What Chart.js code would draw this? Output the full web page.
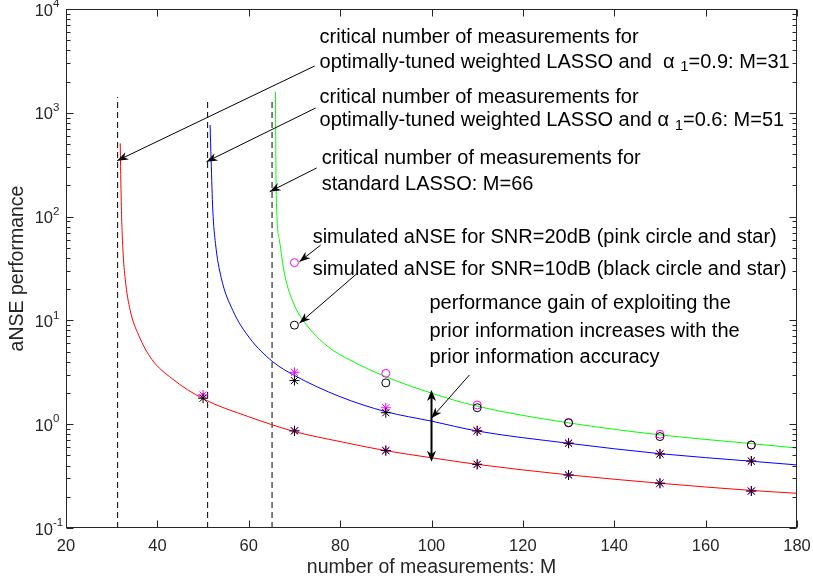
<!DOCTYPE html>
<html>
<head>
<meta charset="utf-8">
<script src="https://cdn.jsdelivr.net/npm/chart.js@4.4.1/dist/chart.umd.min.js"></script>
<style>
  html, body { margin: 0; padding: 0; background: #fff; }
  #wrap { width: 813px; height: 585px; }
</style>
</head>
<body>
<div id="wrap"><canvas id="c" width="813" height="585"></canvas></div>
<script>
// ---------------------------------------------------------
// data
// ---------------------------------------------------------
// theoretical curves
const redM   = [31.87, 32.09, 32.46, 32.96, 34.05, 35.9, 38.8, 43.2, 50, 60, 70, 80, 90, 100, 110, 130, 150, 170, 180];
const redV   = [508, 139, 48, 25, 12.5, 7.2, 4.2, 2.75, 1.76, 1.18, 0.85, 0.68, 0.556, 0.475, 0.41, 0.325, 0.27, 0.23, 0.216];
const blueM  = [51.54, 51.76, 52.13, 52.72, 53.95, 56.5, 60.15, 65.25, 70, 80, 90, 100, 110, 130, 150, 170, 180];
const blueV  = [763, 351, 116, 55, 26, 12.5, 6.8, 4.0, 2.95, 1.84, 1.32, 1.07, 0.86, 0.655, 0.52, 0.44, 0.405];
const greenM = [65.84, 66.0, 66.71, 67.8, 70, 72.2, 77.3, 82.4, 90, 100, 110, 130, 150, 170, 180];
const greenV = [1597, 180, 59.5, 28.4, 14, 9.6, 5.6, 4.1, 2.87, 1.99, 1.49, 1.03, 0.79, 0.65, 0.59];

// simulated points (standard LASSO = circles)
const circM    = [70, 90, 110, 130, 150, 170];
const circ20dB = [36, 3.09, 1.53, 1.04, 0.80, 0.63];
const circ10dB = [9.0, 2.5, 1.44, 1.03, 0.76, 0.63];
// weighted LASSO alpha1=0.6 (stars on blue)
const starBlueM    = [70, 90, 110, 130, 150, 170];
const starBlue20dB = [3.16, 1.44, 0.87, 0.66, 0.52, 0.44];
const starBlue10dB = [2.63, 1.29, 0.86, 0.655, 0.516, 0.442];
// weighted LASSO alpha1=0.9 (stars on red)
const starRedM    = [50, 70, 90, 110, 130, 150, 170];
const starRed20dB = [1.91, 0.87, 0.56, 0.41, 0.325, 0.27, 0.227];
const starRed10dB = [1.78, 0.86, 0.556, 0.411, 0.324, 0.27, 0.227];

// critical number of measurements (dashed lines)
const critM   = [31.3, 51, 65.1];
const critTop = [1420, 1330, 1350];

// axes
const xTicks   = [20, 40, 60, 80, 100, 120, 140, 160, 180];
const yDecades = [0.1, 1, 10, 100, 1000, 10000];
const yExps    = ['-1', '0', '1', '2', '3', '4'];

const FONT = "'Liberation Sans', Arial, Helvetica, sans-serif";

// ---------------------------------------------------------
// annotations (anchors in data units: [M, aNSE])
// ---------------------------------------------------------
const notes = [
  { at: [75.5, 5370], parts: [['critical number of measurements for']] },
  { at: [75.5, 3083], parts: [['optimally-tuned weighted LASSO and  \u03b1 '], ['1', 'sub'], ['=0.9: M=31']] },
  { at: [75.5, 1419], parts: [['critical number of measurements for']] },
  { at: [75.5, 834],  parts: [['optimally-tuned weighted LASSO and \u03b1 '], ['1', 'sub'], ['=0.6: M=51']] },
  { at: [75.96, 367], parts: [['critical number of measurements for']] },
  { at: [75.96, 206], parts: [['standard LASSO: M=66']] },
  { at: [73.99, 63.5], parts: [['simulated aNSE for SNR=20dB (pink circle and star)']] },
  { at: [73.99, 30.6], parts: [['simulated aNSE for SNR=10dB (black circle and star)']] },
  { at: [99.56, 14.4], parts: [['performance gain of exploiting the']] },
  { at: [99.56, 7.9],  parts: [['prior information increases with the']] },
  { at: [99.56, 4.35], parts: [['prior information accuracy']] }
];

const arrows = [
  { from: [74.43, 2825], to: [31.21, 346] },
  { from: [74.64, 1112], to: [50.75, 338] },
  { from: [74.86, 294],  to: [64.59, 174] },
  { from: [75.74, 53.2], to: [71.08, 36.7] },
  { from: [83.83, 28.6], to: [71.08, 9.38] },
  { from: [108.3, 2.98], to: [99.93, 1.14] }
];
const gapArrow = { m: 100, hi: 2.13, lo: 0.435 };

// ---------------------------------------------------------
// helpers
// ---------------------------------------------------------
function pts(xs, ys) {
  return xs.map((x, i) => ({ x: x, y: ys[i] }));
}

function curve(xs, ys, color) {
  return {
    data: pts(xs, ys),
    showLine: true,
    borderColor: color,
    borderWidth: 1,
    pointRadius: 0,
    cubicInterpolationMode: 'monotone',
    fill: false
  };
}

function marker(xs, ys, style, color) {
  return {
    data: pts(xs, ys),
    showLine: false,
    pointStyle: style,
    pointRadius: style === 'star' ? 5 : 4,
    pointBorderColor: color,
    pointBackgroundColor: 'rgba(0,0,0,0)',
    pointBorderWidth: 1
  };
}

function dashed(i) {
  return {
    data: pts([critM[i], critM[i]], [0.1, critTop[i]]),
    showLine: true,
    borderColor: '#000',
    borderWidth: 1,
    borderDash: [6, 4],
    pointRadius: 0
  };
}

function head(ctx, x1, y1, x2, y2, len, half) {
  const a = Math.atan2(y2 - y1, x2 - x1);
  ctx.save();
  ctx.translate(x2, y2);
  ctx.rotate(a);
  ctx.beginPath();
  ctx.moveTo(0, 0);
  ctx.lineTo(-len, -half);
  ctx.lineTo(-len * 0.7, 0);
  ctx.lineTo(-len, half);
  ctx.closePath();
  ctx.fill();
  ctx.restore();
}

// frame, inward ticks, tick labels, axis titles, annotations
const decorPlugin = {
  id: 'decor',
  afterDraw(chart) {
    const ctx = chart.ctx;
    const xs = chart.scales.x, ys = chart.scales.y;
    const a = chart.chartArea;
    const L = Math.round(a.left) + 0.5, R = Math.round(a.right) - 0.5;
    const T = Math.round(a.top) + 0.5, B = Math.round(a.bottom) - 0.5;

    ctx.save();
    ctx.strokeStyle = '#262626';
    ctx.lineWidth = 1;
    ctx.strokeRect(L, T, R - L, B - T);

    ctx.beginPath();
    xTicks.forEach(v => {
      const px = Math.round(xs.getPixelForValue(v)) + 0.5;
      ctx.moveTo(px, B); ctx.lineTo(px, B - 7);
      ctx.moveTo(px, T); ctx.lineTo(px, T + 7);
    });
    yDecades.forEach((d, k) => {
      const py = Math.round(ys.getPixelForValue(d)) + 0.5;
      ctx.moveTo(L, py); ctx.lineTo(L + 7, py);
      ctx.moveTo(R, py); ctx.lineTo(R - 7, py);
      if (k < yDecades.length - 1) {
        for (let m = 2; m <= 9; m++) {
          const q = Math.round(ys.getPixelForValue(d * m)) + 0.5;
          ctx.moveTo(L, q); ctx.lineTo(L + 4, q);
          ctx.moveTo(R, q); ctx.lineTo(R - 4, q);
        }
      }
    });
    ctx.stroke();

    // x tick labels
    ctx.fillStyle = '#262626';
    ctx.font = '16.5px ' + FONT;
    ctx.textAlign = 'center';
    ctx.textBaseline = 'middle';
    xTicks.forEach(v => {
      ctx.fillText(String(v), xs.getPixelForValue(v), a.bottom + 18);
    });

    // y tick labels 10^k
    yDecades.forEach((d, k) => {
      const py = ys.getPixelForValue(d);
      ctx.textBaseline = 'middle';
      ctx.font = '16.5px ' + FONT;
      ctx.textAlign = 'right';
      ctx.fillText('10', 53, py + 2);
      ctx.font = '11.5px ' + FONT;
      ctx.textAlign = 'left';
      ctx.fillText(yExps[k], 53, py - 5);
    });

    // axis titles
    ctx.font = '19.5px ' + FONT;
    ctx.textAlign = 'center';
    ctx.textBaseline = 'middle';
    ctx.fillText('number of measurements: M', (a.left + a.right) / 2, 568);
    ctx.save();
    ctx.translate(18, (a.top + a.bottom) / 2);
    ctx.rotate(-Math.PI / 2);
    ctx.fillText('aNSE performance', 0, 0);
    ctx.restore();

    // annotation text
    ctx.fillStyle = '#000';
    ctx.textAlign = 'left';
    ctx.textBaseline = 'middle';
    notes.forEach(n => {
      let x = xs.getPixelForValue(n.at[0]);
      const y = ys.getPixelForValue(n.at[1]);
      n.parts.forEach(p => {
        const sub = p[1] === 'sub';
        ctx.font = (sub ? '15px ' : '20px ') + FONT;
        ctx.fillText(p[0], x, sub ? y + 5 : y);
        x += ctx.measureText(p[0]).width;
      });
    });

    // arrows
    ctx.strokeStyle = '#000';
    ctx.fillStyle = '#000';
    ctx.lineWidth = 1;
    arrows.forEach(ar => {
      const x1 = xs.getPixelForValue(ar.from[0]), y1 = ys.getPixelForValue(ar.from[1]);
      const x2 = xs.getPixelForValue(ar.to[0]), y2 = ys.getPixelForValue(ar.to[1]);
      ctx.beginPath();
      ctx.moveTo(x1, y1);
      ctx.lineTo(x2, y2);
      ctx.stroke();
      head(ctx, x1, y1, x2, y2, 11, 4);
    });

    // double arrow for the gain
    const gx = xs.getPixelForValue(gapArrow.m);
    const gy1 = ys.getPixelForValue(gapArrow.hi), gy2 = ys.getPixelForValue(gapArrow.lo);
    ctx.lineWidth = 2;
    ctx.beginPath();
    ctx.moveTo(gx, gy1 + 4);
    ctx.lineTo(gx, gy2 - 4);
    ctx.stroke();
    head(ctx, gx, gy2, gx, gy1, 11, 4.5);
    head(ctx, gx, gy1, gx, gy2, 11, 4.5);
    ctx.restore();
  }
};

// ---------------------------------------------------------
// chart (first dataset is drawn on top)
// ---------------------------------------------------------
const datasets = [
  marker(circM, circ10dB, 'circle', '#000'),
  marker(starBlueM, starBlue10dB, 'star', '#000'),
  marker(starRedM, starRed10dB, 'star', '#000'),
  marker(circM, circ20dB, 'circle', '#ff00ff'),
  marker(starBlueM, starBlue20dB, 'star', '#ff00ff'),
  marker(starRedM, starRed20dB, 'star', '#ff00ff'),
  curve(redM, redV, '#ff0000'),
  curve(blueM, blueV, '#0000ff'),
  curve(greenM, greenV, '#00ff00'),
  dashed(0), dashed(1), dashed(2)
];

new Chart(document.getElementById('c'), {
  type: 'scatter',
  data: { datasets: datasets },
  options: {
    responsive: false,
    animation: false,
    events: [],
    layout: { padding: { left: 0, top: 9, right: 16, bottom: 0 } },
    plugins: { legend: { display: false }, tooltip: { enabled: false } },
    scales: {
      x: {
        type: 'linear',
        min: 20,
        max: 180,
        grid: { display: false, drawTicks: false },
        border: { display: false },
        afterFit: s => { s.height = 57; },
        ticks: { display: false }
      },
      y: {
        type: 'logarithmic',
        min: 0.1,
        max: 10000,
        grid: { display: false, drawTicks: false },
        border: { display: false },
        afterFit: s => { s.width = 66; },
        ticks: { display: false }
      }
    }
  },
  plugins: [decorPlugin]
});
</script>
</body>
</html>
